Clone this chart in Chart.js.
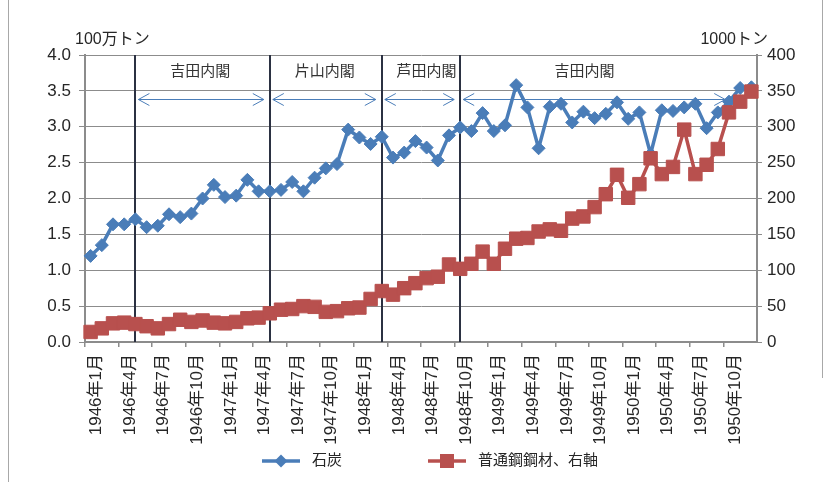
<!DOCTYPE html>
<html>
<head>
<meta charset="utf-8">
<script src="https://cdn.jsdelivr.net/npm/chart.js@4/dist/chart.umd.min.js"></script>
<style>
  body { margin: 0; background: #fff; }
  #wrap { width: 827px; height: 482px; }
</style>
</head>
<body>
<div id="wrap"><canvas id="chart" width="827" height="482"></canvas></div>
<script>
// monthly categories, Jan 1946 - Dec 1950
const months = [
  '1946年1月','1946年2月','1946年3月','1946年4月','1946年5月','1946年6月','1946年7月','1946年8月','1946年9月','1946年10月','1946年11月','1946年12月',
  '1947年1月','1947年2月','1947年3月','1947年4月','1947年5月','1947年6月','1947年7月','1947年8月','1947年9月','1947年10月','1947年11月','1947年12月',
  '1948年1月','1948年2月','1948年3月','1948年4月','1948年5月','1948年6月','1948年7月','1948年8月','1948年9月','1948年10月','1948年11月','1948年12月',
  '1949年1月','1949年2月','1949年3月','1949年4月','1949年5月','1949年6月','1949年7月','1949年8月','1949年9月','1949年10月','1949年11月','1949年12月',
  '1950年1月','1950年2月','1950年3月','1950年4月','1950年5月','1950年6月','1950年7月','1950年8月','1950年9月','1950年10月','1950年11月','1950年12月'
];
// only these appear under the axis
const tickLabels = [
  '1946年1月','1946年4月','1946年7月','1946年10月','1947年1月','1947年4月','1947年7月','1947年10月',
  '1948年1月','1948年4月','1948年7月','1948年10月','1949年1月','1949年4月','1949年7月','1949年10月',
  '1950年1月','1950年4月','1950年7月','1950年10月'
];

// 石炭 (100万トン, left axis)
const coal = [
  1.20, 1.35, 1.64, 1.64, 1.71, 1.60, 1.62, 1.78, 1.74, 1.79,
  2.00, 2.19, 2.02, 2.04, 2.26, 2.10, 2.10, 2.12, 2.23, 2.10,
  2.29, 2.42, 2.48, 2.96, 2.85, 2.76, 2.86, 2.57, 2.64, 2.80,
  2.71, 2.53, 2.88, 2.99, 2.94, 3.19, 2.94, 3.02, 3.58, 3.27,
  2.70, 3.28, 3.32, 3.06, 3.21, 3.12, 3.18, 3.34, 3.11, 3.20,
  2.62, 3.23, 3.22, 3.27, 3.32, 2.98, 3.20, 3.35, 3.54, 3.55
];
// 普通鋼鋼材 (1000トン, right axis)
const steel = [
  14, 19, 26, 27, 25, 22, 19, 25, 31, 28,
  30, 27, 26, 28, 33, 34, 40, 45, 46, 50,
  49, 42, 43, 47, 48, 60, 71, 66, 75, 82,
  89, 91, 108, 102, 109, 126, 109, 130, 144, 145,
  154, 157, 155, 172, 175, 188, 206, 233, 201, 220,
  256, 234, 244, 296, 234, 247, 269, 320, 335, 349
];

// cabinets: start month index, end of arrow, label position (month index)
const cabinets = [
  { name: '吉田内閣', start: 4,  end: 16,   labelAt: 9.8 },
  { name: '片山内閣', start: 16, end: 26,   labelAt: 20.9 },
  { name: '芦田内閣', start: 26, end: 33,   labelAt: 30 },
  { name: '吉田内閣', start: 33, end: 57.2, labelAt: 44.1 }
];

const FONT = '"Liberation Sans", "Noto Sans CJK JP", sans-serif';
const BLUE = '#4a7db8';
const RED = '#b8504e';
const GRID = '#8c8c8c';
const TXT = '#262626';

Chart.defaults.font.family = FONT;
Chart.defaults.color = TXT;

function diamond(ctx, x, y, r) {
  ctx.beginPath();
  ctx.moveTo(x, y - r); ctx.lineTo(x + r, y); ctx.lineTo(x, y + r); ctx.lineTo(x - r, y);
  ctx.closePath(); ctx.fill();
}

const extras = {
  id: 'extras',
  beforeDatasetsDraw(chart) {
    const { ctx, chartArea: a, scales } = chart;
    const x = scales.x, y = scales.y;
    ctx.save();
    // cabinet boundaries
    ctx.strokeStyle = '#2b3142';
    ctx.lineWidth = 2;
    cabinets.forEach(c => {
      const px = Math.round(x.getPixelForValue(c.start));
      ctx.beginPath(); ctx.moveTo(px, a.top); ctx.lineTo(px, a.bottom); ctx.stroke();
    });
    // arrows and names
    const ay = Math.round(y.getPixelForValue(3.39)) + 0.5;
    const ty = y.getPixelForValue(3.77);
    ctx.strokeStyle = BLUE;
    ctx.lineWidth = 1;
    ctx.font = '15px ' + FONT;
    ctx.fillStyle = '#333';
    ctx.textAlign = 'center';
    ctx.textBaseline = 'middle';
    cabinets.forEach(c => {
      const x0 = x.getPixelForValue(c.start) + 3;
      const x1 = x.getPixelForValue(c.end) - 6;
      ctx.beginPath();
      ctx.moveTo(x0, ay); ctx.lineTo(x1, ay);
      ctx.moveTo(x0 + 11, ay - 6); ctx.lineTo(x0, ay); ctx.lineTo(x0 + 11, ay + 6);
      ctx.moveTo(x1 - 11, ay - 6); ctx.lineTo(x1, ay); ctx.lineTo(x1 - 11, ay + 6);
      ctx.stroke();
      ctx.fillText(c.name, x.getPixelForValue(c.labelAt), ty);
    });
    ctx.restore();
  },
  afterDraw(chart) {
    const { ctx } = chart;
    ctx.save();
    // frame edges
    ctx.strokeStyle = '#a8a8a8';
    ctx.lineWidth = 1;
    ctx.beginPath();
    ctx.moveTo(8.5, 0); ctx.lineTo(8.5, 482);
    ctx.moveTo(822.5, 0); ctx.lineTo(822.5, 378);
    ctx.stroke();
    // axis units
    ctx.font = '16px ' + FONT;
    ctx.fillStyle = TXT;
    ctx.textBaseline = 'middle';
    ctx.textAlign = 'left';
    ctx.fillText('100万トン', 75, 40);
    ctx.textAlign = 'right';
    ctx.fillText('1000トン', 768, 40);
    // legend
    const ly = 461;
    ctx.lineWidth = 3.5;
    ctx.strokeStyle = BLUE;
    ctx.beginPath(); ctx.moveTo(262, ly); ctx.lineTo(300, ly); ctx.stroke();
    ctx.fillStyle = BLUE;
    diamond(ctx, 281, ly, 6.5);
    ctx.strokeStyle = RED;
    ctx.beginPath(); ctx.moveTo(428, ly); ctx.lineTo(466, ly); ctx.stroke();
    ctx.fillStyle = RED;
    ctx.fillRect(440, ly - 7, 14, 14);
    ctx.font = '15px ' + FONT;
    ctx.fillStyle = TXT;
    ctx.textAlign = 'left';
    ctx.fillText('石炭', 312, ly);
    ctx.fillText('普通鋼鋼材、右軸', 478, ly);
    ctx.restore();
  }
};

new Chart(document.getElementById('chart'), {
  type: 'line',
  data: {
    labels: months,
    datasets: [
      {
        label: '石炭',
        data: coal,
        yAxisID: 'y',
        borderColor: BLUE,
        backgroundColor: BLUE,
        borderWidth: 3.5,
        pointStyle: 'rectRot',
        pointRadius: 6.5,
        pointBorderWidth: 1,
        tension: 0,
        order: 1
      },
      {
        label: '普通鋼鋼材、右軸',
        data: steel,
        yAxisID: 'y2',
        borderColor: RED,
        backgroundColor: RED,
        borderWidth: 3.5,
        pointStyle: 'rect',
        pointRadius: 9.5,
        pointBorderWidth: 1,
        tension: 0,
        order: 0
      }
    ]
  },
  options: {
    responsive: false,
    animation: false,
    layout: { padding: { top: 55, left: 0, right: 0, bottom: 0 } },
    plugins: {
      legend: { display: false },
      tooltip: { enabled: false }
    },
    scales: {
      x: {
        offset: true,
        afterFit: (s) => { s.height = 140; },
        border: { color: GRID, width: 2 },
        grid: {
          offset: true,
          drawOnChartArea: false,
          tickLength: 5,
          color: (c) => (c.index % 3 === 0 ? GRID : 'rgba(0,0,0,0)'),
          lineWidth: 1.5
        },
        ticks: {
          autoSkip: false,
          minRotation: 90,
          maxRotation: 90,
          padding: 7,
          labelOffset: 6,
          font: { size: 17 },
          color: TXT,
          callback: function (v, i) {
            const m = months[i];
            return tickLabels.includes(m) ? m : '';
          }
        }
      },
      y: {
        position: 'left',
        min: 0,
        max: 4,
        afterFit: (s) => { s.width = 85; },
        border: { color: GRID, width: 2 },
        grid: { color: GRID, lineWidth: 1, tickLength: 6 },
        ticks: {
          stepSize: 0.5,
          padding: 8,
          font: { size: 17 },
          color: TXT,
          callback: (v) => v.toFixed(1)
        }
      },
      y2: {
        position: 'right',
        min: 0,
        max: 400,
        afterFit: (s) => { s.width = 70; },
        border: { color: GRID, width: 2 },
        grid: { drawOnChartArea: false, color: GRID, tickLength: 5 },
        ticks: {
          stepSize: 50,
          padding: 5,
          font: { size: 17 },
          color: TXT
        }
      }
    }
  },
  plugins: [extras]
});
</script>
</body>
</html>
